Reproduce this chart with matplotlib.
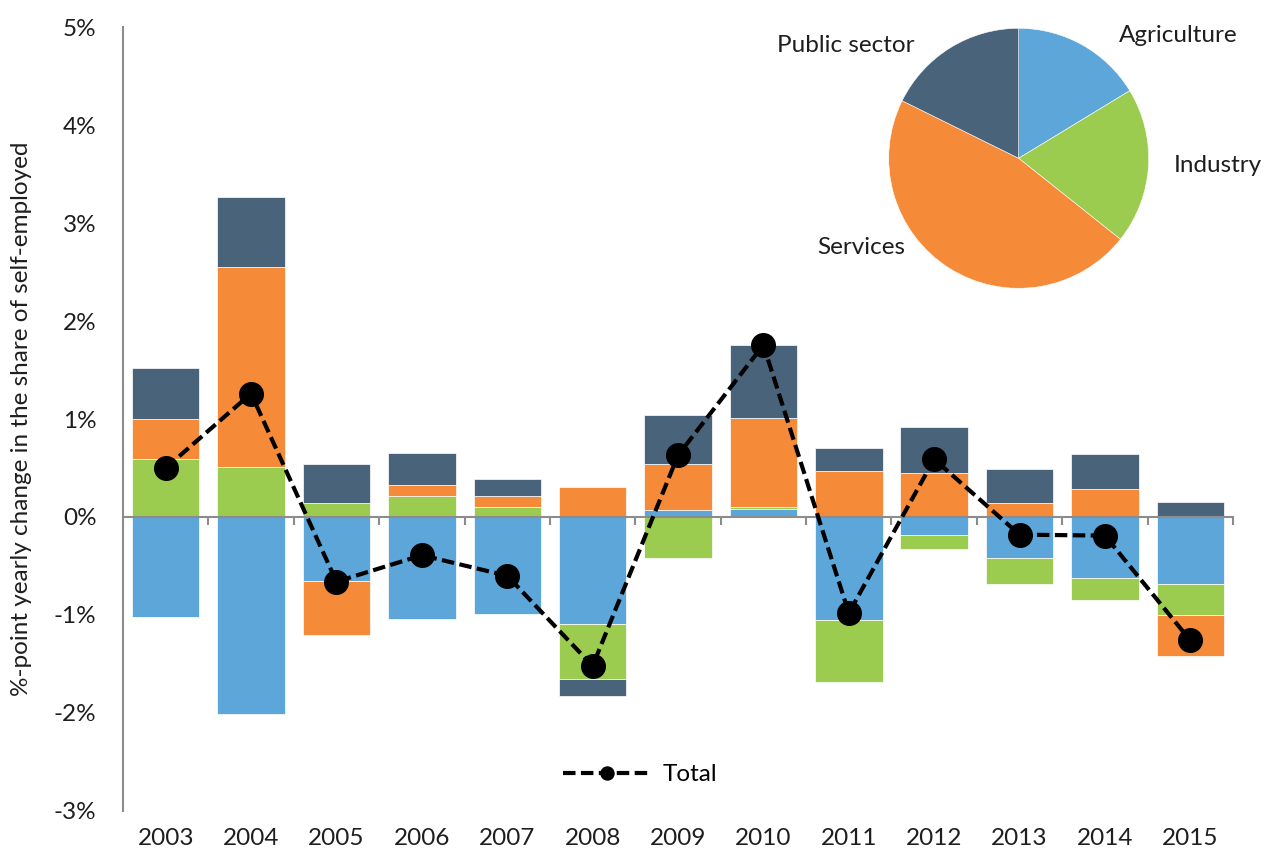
import matplotlib
matplotlib.use("Agg")
import matplotlib.pyplot as plt
import numpy as np

plt.rcParams['font.family'] = ['Lato', 'DejaVu Sans']

years = ["2003", "2004", "2005", "2006", "2007", "2008", "2009",
         "2010", "2011", "2012", "2013", "2014", "2015"]

agriculture = [-1.02, -2.01, -0.65, -1.04, -0.99, -1.09, 0.07, 0.08, -1.05, -0.18, -0.42, -0.62, -0.68]
industry    = [0.59, 0.51, 0.14, 0.21, 0.105, -0.565, -0.42, 0.02, -0.63, -0.15, -0.26, -0.225, -0.32]
services    = [0.41, 2.04, -0.55, 0.12, 0.105, 0.31, 0.47, 0.915, 0.47, 0.45, 0.14, 0.29, -0.415]
public      = [0.52, 0.72, 0.40, 0.32, 0.175, -0.17, 0.50, 0.74, 0.23, 0.47, 0.35, 0.355, 0.15]
total       = [0.50, 1.26, -0.66, -0.39, -0.60, -1.52, 0.63, 1.755, -0.98, 0.59, -0.18, -0.19, -1.26]

sectors = ["Agriculture", "Industry", "Services", "Public sector"]
pie_shares = [16.3, 19.4, 46.6, 17.7]

colors = ["#5DA6D9", "#9BCC50", "#F58A38", "#48637A"]
gray = "#8C8C8C"
txt = '#1E1E1E'
fs = 17.5

fig = plt.figure(figsize=(12.64, 8.58), dpi=100)
ax = fig.add_axes([0.0973, 0.0548, 0.8782, 0.9137])

x = np.arange(len(years))
pos_base = np.zeros(len(years))
neg_base = np.zeros(len(years))
for vals, col, name in zip([agriculture, industry, services, public], colors, sectors):
    v = np.array(vals)
    base = np.where(v >= 0, pos_base, neg_base)
    ax.bar(x, v, width=0.79, bottom=base, color=col, edgecolor='white',
           linewidth=0.5, zorder=1, label='_' + name)
    pos_base = pos_base + np.where(v >= 0, v, 0)
    neg_base = neg_base + np.where(v < 0, v, 0)

line, = ax.plot(x, total, color='black', linewidth=3.0, linestyle=(0, (3.0, 1.3)),
                marker='o', markersize=17, zorder=4, label='Total')

ax.set_xlim(-0.5, len(years) - 0.5)
ax.set_ylim(-3, 5)
ax.set_yticks(np.arange(-3, 6, 1))
ax.set_yticklabels([f"{t}%" for t in range(-3, 6)], fontsize=fs, color=txt)
ax.tick_params(axis='y', length=0, pad=19)

for s in ['top', 'right']:
    ax.spines[s].set_visible(False)
ax.spines['left'].set_color(gray)
ax.spines['left'].set_linewidth(1.5)
ax.spines['bottom'].set_position(('data', 0))
ax.spines['bottom'].set_color(gray)
ax.spines['bottom'].set_linewidth(1.5)
ax.set_xticks(np.arange(len(years)) + 0.5)
ax.tick_params(axis='x', length=6, width=1.5, color=gray, direction='out', labelbottom=False)

sec = ax.secondary_xaxis('bottom')
sec.set_xticks(x)
sec.set_xticklabels(years, fontsize=fs, color=txt)
sec.tick_params(length=0, pad=12)
sec.spines['bottom'].set_visible(False)

ax.set_ylabel("%-point yearly change in the share of self-employed", fontsize=fs, color=txt, labelpad=16)

leg = ax.legend(handles=[line], loc='center', bbox_to_anchor=(0.466, 0.046),
                frameon=False, fontsize=fs, handlelength=3.6, markerscale=0.55,
                handletextpad=0.5)

# pie inset
pax = fig.add_axes([(1018.7 - 130) / 1264, 1 - (158.3 + 130) / 858, 260 / 1264, 260 / 858])
pax.pie(pie_shares, colors=colors, startangle=90, counterclock=False,
        wedgeprops=dict(edgecolor='white', linewidth=0.4), radius=1.0)
pax.set_xlim(-1, 1)
pax.set_ylim(-1, 1)
pax.set_aspect('equal')
label_pos = [(0.77, 0.946, 'left'), (1.19, -0.054, 'left'),
             (-0.87, -0.69, 'right'), (-0.80, 0.87, 'right')]
for name, (lx, ly, ha) in zip(sectors, label_pos):
    pax.text(lx, ly, name, ha=ha, va='center', fontsize=fs, color=txt, clip_on=False)

fig.savefig("out.png", dpi=100)
